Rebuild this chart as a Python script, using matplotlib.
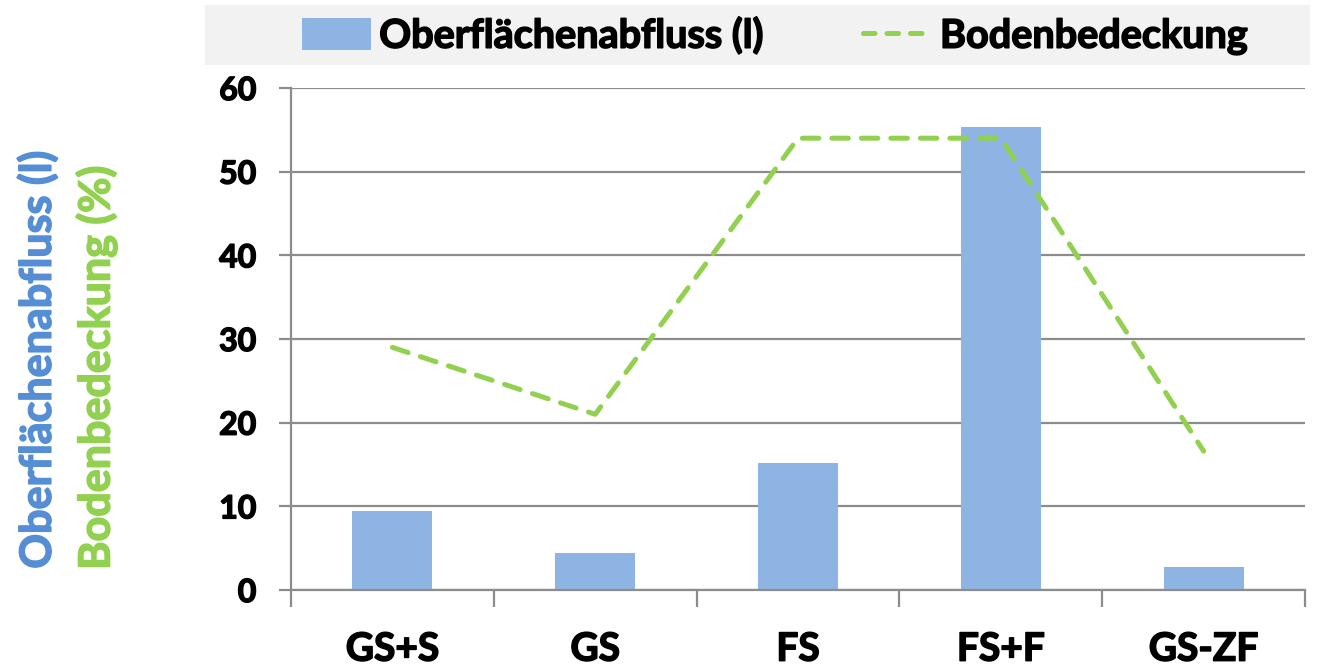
import matplotlib
matplotlib.use("Agg")
import matplotlib.pyplot as plt
from matplotlib.patches import Rectangle, Patch
from matplotlib.lines import Line2D
import matplotlib.patheffects as pe
import numpy as np

categories = ["GS+S", "GS", "FS", "FS+F", "GS-ZF"]
abfluss = [9.4, 4.4, 15.2, 55.3, 2.7]
bedeckung = [29.0, 21.0, 54.0, 54.0, 16.6]
yticks = [0, 10, 20, 30, 40, 50, 60]

FONT = "Lato"
W = 'bold'
plt.rcParams['font.family'] = [FONT, 'DejaVu Sans']
plt.rcParams['font.weight'] = W

bar_color = "#8EB4E3"
line_color = "#92D050"
blue_label = "#558ED5"
grid_color = "#8C8C8C"


def thick(color, w=1.1):
    return [pe.withStroke(linewidth=w, foreground=color)]


fig = plt.figure(figsize=(13.21, 6.70), dpi=100)
ax = fig.add_axes([291/1321, 1-590/670, (1305-291)/1321, (590-88)/670])

x = np.arange(len(categories))
ax.bar(x, abfluss, width=0.395, color=bar_color, zorder=2)
ax.plot(x, bedeckung, color=line_color, lw=3.6, dashes=(3.3, 2.6),
        dash_capstyle='round', solid_joinstyle='round', zorder=3)

ax.set_xlim(-0.5, len(categories) - 0.5)
ax.set_ylim(0, 60)
ax.set_yticks(yticks)
ax.set_yticklabels([str(v) for v in yticks], fontsize=23, fontweight=W)
ax.yaxis.grid(True, color=grid_color, lw=1.6, zorder=0)
ax.set_axisbelow(True)

ax.set_xticks(np.arange(-0.5, len(categories) + 0.5, 1.0))
ax.set_xticklabels([])
ax.set_xticks(x, minor=True)
ax.set_xticklabels(categories, minor=True, fontsize=28, fontweight=W)
ax.tick_params(axis='x', which='minor', length=0, pad=30)
ax.tick_params(axis='x', which='major', length=12, width=1.6, color=grid_color)
ax.tick_params(axis='y', length=9, width=1.6, color=grid_color, pad=16)

for lab in ax.get_yticklabels() + ax.get_xticklabels(minor=True):
    lab.set_path_effects(thick('black'))

for s in ['top', 'right']:
    ax.spines[s].set_visible(False)
for s in ['left', 'bottom']:
    ax.spines[s].set_color(grid_color)
    ax.spines[s].set_linewidth(1.6)

fig.patches.append(Rectangle((205/1321, 1-65/670), (1310-205)/1321, 60/670,
                             transform=fig.transFigure, facecolor="#F2F2F2",
                             edgecolor='none', zorder=0))
handles = [Patch(facecolor=bar_color, edgecolor='none'),
           Line2D([0], [0], color=line_color, lw=3.6, dashes=(2.3, 2.4),
                  dash_capstyle='round')]
leg = fig.legend(handles, ["Oberflächenabfluss (l)", "Bodenbedeckung"],
                 loc='center', bbox_to_anchor=(775/1321, 1-36/670), ncol=2,
                 frameon=False, prop={'weight': W, 'size': 28.5},
                 handlelength=1.75, handleheight=0.85, handletextpad=0.2,
                 columnspacing=2.5)
for t in leg.get_texts():
    t.set_path_effects(thick('black'))

t1 = fig.text(37/1321, 1-360/670, "Oberflächenabfluss (l)", rotation=90,
              ha='center', va='center', color=blue_label, fontsize=31, fontweight=W)
t2 = fig.text(96/1321, 1-368/670, "Bodenbedeckung (%)", rotation=90,
              ha='center', va='center', color=line_color, fontsize=31, fontweight=W)
t1.set_path_effects(thick(blue_label))
t2.set_path_effects(thick(line_color))

fig.savefig("out.png", dpi=100)
